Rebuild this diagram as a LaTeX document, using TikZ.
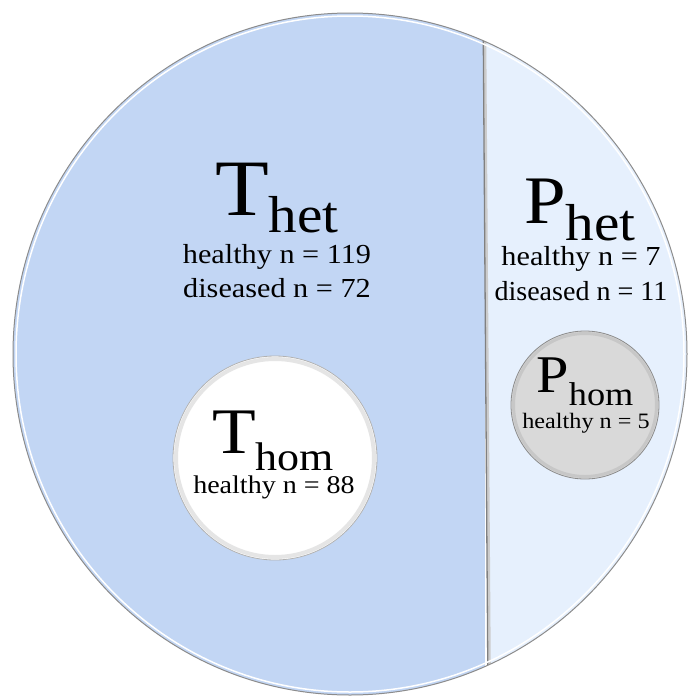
\documentclass[tikz,border=0pt]{standalone}
\usepackage{fontspec}
\setmainfont{Liberation Serif}
\definecolor{leftblue}{HTML}{C2D6F4}
\definecolor{rightblue}{HTML}{E6F0FD}
\definecolor{homgray}{HTML}{D9D9D9}
\newcommand{\fs}[1]{\fontsize{#1}{#1}\selectfont}
\newcommand{\wide}[1]{\scalebox{1.1}[1]{#1}}
\tikzset{
  lbl/.style={anchor=base, inner sep=0pt},
}
\begin{document}
\begin{tikzpicture}[x=1pt,y=-1pt]
\useasboundingbox (0,0) rectangle (688,697);
% big circle
\begin{scope}
  \clip (350,354) ellipse [x radius=337, y radius=341];
  \fill[leftblue] (0,0) rectangle (485,697);
  \fill[rightblue] (483,0) -- (688,0) -- (688,697) -- (488,697) -- cycle;
  \draw[black!20, line width=3pt] (484.5,0) -- (489.5,697);
  \draw[black!50, line width=1.3pt] (483,0) -- (488,697);
  \draw[white, line width=1.5pt] (350,354) ellipse [x radius=334, y radius=338];
\end{scope}
\draw[black!45, line width=1pt] (350,354) ellipse [x radius=337, y radius=341];
% inner circles
\node[circle, fill=white, minimum size=204pt, inner sep=0pt] (thomc) at (275,458) {};
\draw[black!10, line width=4pt] (thomc.center) circle (99);
\draw[black!30, line width=0.8pt] (thomc.center) circle (102);
\node[circle, fill=homgray, minimum size=148pt, inner sep=0pt] (phomc) at (585,405) {};
\draw[black!22, line width=3pt] (phomc.center) circle (71.5);
\draw[black!45, line width=0.8pt] (phomc.center) circle (74);
% T het
\node[lbl] (thet) at (277,215) {\wide{\fs{80}T\raisebox{-17pt}{\fs{52}het}}};
\node[lbl] (thet1) at (277,263) {\wide{\fs{27.5}healthy n = 119}};
\node[lbl] (thet2) at (277,297) {\wide{\fs{27.5}diseased n = 72}};
% P het
\node[lbl] (phet) at (580,223) {\wide{\fs{68}P\raisebox{-17pt}{\fs{52}het}}};
\node[lbl] (phet1) at (581,265) {\wide{\fs{27.5}healthy n = 7}};
\node[lbl] (phet2) at (581,300) {\scalebox{1.02}[1]{\fs{27.5}diseased n = 11}};
% T hom
\node[lbl] (thom) at (273,453) {\wide{\fs{65}T\raisebox{-17pt}{\fs{40}hom}}};
\node[lbl] (thom1) at (274,493) {\wide{\fs{25.5}healthy n = 88}};
% P hom
\node[lbl] (phom) at (585,392) {\wide{\fs{53}P\raisebox{-13pt}{\fs{33}hom}}};
\node[lbl] (phom1) at (586,428) {\wide{\fs{22}healthy n = 5}};
\end{tikzpicture}
\end{document}
